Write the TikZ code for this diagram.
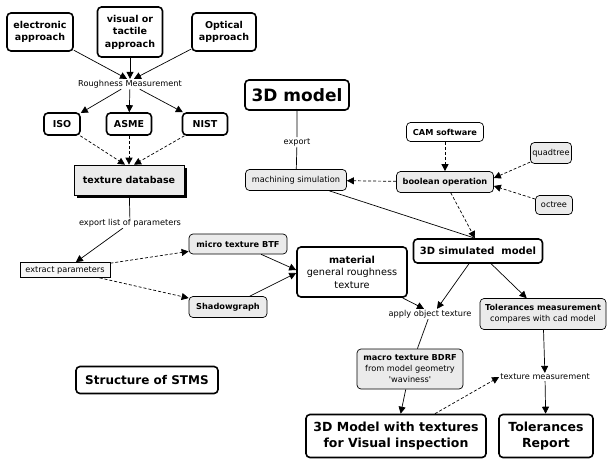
\documentclass[tikz,border=0pt]{standalone}
\usepackage{fontspec}
\setmainfont{DejaVu Sans}[Ligatures=TeXOff]
\usetikzlibrary{positioning, arrows.meta, shadows}
\newcommand{\titlesize}{\fontsize{12.5}{16.5}\selectfont}
\newcommand{\mainsize}{\fontsize{9.5}{12.5}\selectfont}
\newcommand{\smallsize}{\fontsize{8.2}{11}\selectfont}
\tikzset{
  concept/.style={draw, line width=1.6pt, rounded corners=4pt, fill=white,
    align=center, inner sep=2pt, font=\mainsize\bfseries},
  subconcept/.style={draw, line width=0.7pt, rounded corners=4pt, fill=black!8,
    align=center, inner sep=2pt, font=\smallsize},
  phrase/.style={inner sep=1pt, font=\smallsize},
  conn/.style={-{Triangle[length=7pt,width=7pt]}, line width=0.7pt},
  dconn/.style={conn, dash pattern=on 3pt off 2pt},
  plain/.style={-, line width=0.7pt},
}
\begin{document}
\begin{tikzpicture}[x=1pt, y=-1pt]
  \useasboundingbox (0,0) rectangle (607,461);

  % roughness measurement
  \node[concept, minimum width=66, minimum height=38] (elec) at (40,32) {electronic\\approach};
  \node[concept, minimum width=65, minimum height=50] (visual) at (130,32) {visual or\\tactile\\approach};
  \node[concept, minimum width=64, minimum height=38] (optical) at (224,32) {Optical\\approach};
  \node[phrase] (rough) at (130,84) {Roughness Measurement};
  \node[concept, minimum width=36, minimum height=22] (iso) at (62,124) {ISO};
  \node[concept, minimum width=45, minimum height=22] (asme) at (129,124) {ASME};
  \node[concept, minimum width=45, minimum height=22] (nist) at (205,124) {NIST};
  \node[draw, line width=0.7pt, fill=black!8, minimum width=110, minimum height=30,
    font=\mainsize\bfseries,
    drop shadow={shadow xshift=3pt, shadow yshift=-3pt, fill=black, opacity=1}]
    (texdb) at (129,180) {texture database};
  \node[phrase] (exportlist) at (130,223) {export list of parameters};
  \node[draw, line width=0.7pt, fill=black!3, minimum width=90, minimum height=15,
    inner sep=1pt, font=\smallsize] (extract) at (65,270) {extract parameters};
  \node[subconcept, font=\smallsize\bfseries, minimum width=98, minimum height=20] (btf) at (238,244) {micro texture BTF};
  \node[subconcept, font=\smallsize\bfseries, minimum width=78, minimum height=21] (shadowgr) at (228,307) {Shadowgraph};
  \node[concept, font=\fontsize{9.7}{12.5}\selectfont, minimum width=110, minimum height=50] (material) at (352,272)
    {\textbf{material}\\general roughness\\texture};

  % model and machining
  \node[concept, font=\fontsize{17}{20}\selectfont\bfseries, minimum width=104, minimum height=30] (model) at (297,95) {3D model};
  \node[phrase] (export) at (297,142) {export};
  \node[subconcept, minimum width=101, minimum height=21] (machsim) at (296,180) {machining simulation};
  \node[subconcept, fill=white, font=\smallsize\bfseries, minimum width=77, minimum height=19] (cam) at (445,132) {CAM software};
  \node[subconcept, font=\smallsize\bfseries, minimum width=97, minimum height=21] (bool) at (445,182) {boolean operation};
  \node[subconcept, minimum width=39, minimum height=21] (quad) at (551,153) {quadtree};
  \node[subconcept, minimum width=37, minimum height=19] (oct) at (554,205) {octree};
  \node[concept, font=\fontsize{10}{12}\selectfont\bfseries, minimum width=129, minimum height=24] (simmodel) at (478,251) {3D simulated~ model};

  % results
  \node[phrase] (apply) at (430,314) {apply object texture};
  \node[subconcept, minimum width=106, minimum height=40] (macro) at (410,369)
    {\textbf{macro texture BDRF}\\from model geometry\\'waviness'};
  \node[concept, font=\titlesize\bfseries, minimum width=180, minimum height=43] (withtex) at (396,436)
    {3D Model with textures\\for Visual inspection};
  \node[subconcept, minimum width=126, minimum height=31] (tolmeas) at (543,314)
    {\textbf{Tolerances measurement}\\compares with cad model};
  \node[phrase] (texmeas) at (545,377) {texture measurement};
  \node[concept, font=\titlesize\bfseries, minimum width=94, minimum height=43] (tolrep) at (546,436)
    {Tolerances\\Report};
  \node[concept, font=\fontsize{12}{14}\selectfont\bfseries, minimum width=142, minimum height=27] (stms) at (147,380)
    {Structure of STMS};

  % connectors
  \draw[conn] (elec) -- ([xshift=-3pt]rough.north);
  \draw[conn] (visual) -- (rough.north);
  \draw[conn] (optical) -- ([xshift=4pt]rough.north);
  \draw[conn] (rough) -- (iso);
  \draw[conn] (rough) -- (asme);
  \draw[conn] (rough) -- (nist);
  \draw[dconn] (iso) -- ([xshift=-4pt]texdb.north);
  \draw[dconn] (asme) -- (texdb.north);
  \draw[dconn] (nist) -- ([xshift=5pt]texdb.north);
  \draw[plain] (texdb) -- (exportlist);
  \draw[conn] (exportlist) -- (extract);
  \draw[dconn] (extract) -- (btf);
  \draw[dconn] (extract) -- (shadowgr);
  \draw[conn] (btf) -- ([yshift=2pt]material.west);
  \draw[conn] (shadowgr) -- ([yshift=-1pt]material.west);

  \draw[plain] (model) -- (export) -- (machsim);
  \draw[dconn] (cam) -- (bool);
  \draw[dconn] (bool) -- (machsim);
  \draw[dconn] (quad) -- ([yshift=4pt]bool.east);
  \draw[dconn] (oct) -- ([yshift=-4pt]bool.east);
  \draw[dconn] (bool) -- ([xshift=-3pt]simmodel.north);
  \draw[plain] (machsim) -- ([xshift=-3pt]simmodel.north);

  \draw[conn] (material) -- ([xshift=-6pt]apply.north);
  \draw[conn] (simmodel) -- ([xshift=7pt]apply.north);
  \draw[plain] (apply) -- (macro);
  \draw[conn] (macro) -- (withtex);
  \draw[conn] (simmodel) -- (tolmeas);
  \draw[conn] (tolmeas) -- (texmeas);
  \draw[conn] (texmeas) -- (tolrep);
  \draw[dconn] (withtex) -- (texmeas.west);
\end{tikzpicture}
\end{document}
